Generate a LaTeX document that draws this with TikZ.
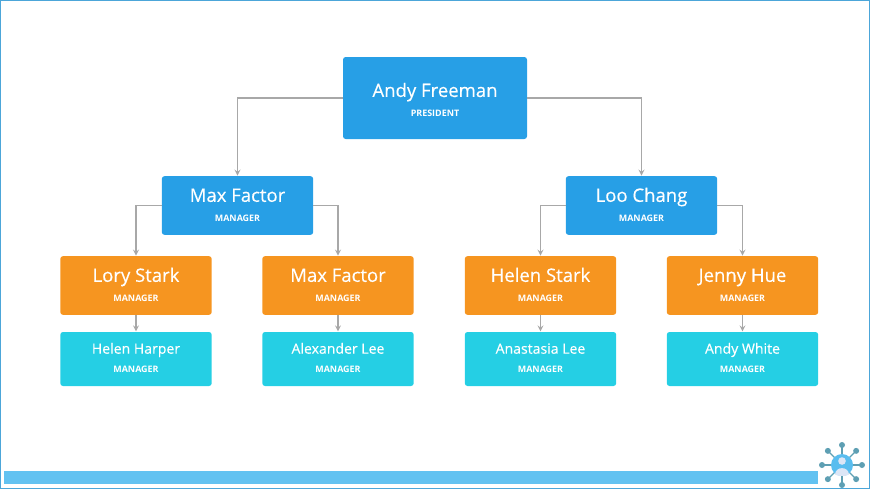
\documentclass[tikz,border=0pt]{standalone}
\usepackage{fontspec}
\setmainfont{Open Sans}
\newfontfamily\namefont{Open Sans}[FakeBold=0.35]
\usepackage{tikz}
\usetikzlibrary{arrows}
\tikzset{>=stealth}
\definecolor{topblue}{HTML}{279FE6}
\definecolor{midorange}{HTML}{F69520}
\definecolor{lowcyan}{HTML}{25CFE4}
\definecolor{barblue}{HTML}{62C2F1}
\definecolor{frameblue}{HTML}{4CA6D9}
\definecolor{linkgray}{HTML}{A8A8A8}
\definecolor{logoteal}{HTML}{5E9FB3}
\definecolor{logoface}{HTML}{DCE6F6}
\newcommand{\bigname}[1]{{\namefont\fontsize{13.9pt}{16pt}\selectfont #1}}
\newcommand{\midname}[1]{{\rule{0pt}{11pt}\namefont\fontsize{13.9pt}{15pt}\selectfont #1}}
\newcommand{\lowname}[1]{{\rule{0pt}{8.5pt}\namefont\fontsize{10.55pt}{13pt}\selectfont #1}}
\newcommand{\rolename}[1]{{\fontsize{6.7pt}{8pt}\selectfont\bfseries #1}}
\newcommand{\lift}[1]{\rule[-#1]{0pt}{#1}}
\tikzset{
  box/.style={rounded corners=2pt, text=white, align=center, inner sep=0pt, minimum width=113.5pt},
  president/.style={box, fill=topblue, minimum width=138pt, minimum height=61.5pt},
  chief/.style={box, fill=topblue, minimum height=44pt},
  lead/.style={box, fill=midorange, minimum height=44pt},
  staff/.style={box, fill=lowcyan, minimum height=40.5pt},
  link/.style={draw=linkgray, line width=1pt, ->, >={stealth}, shorten >=0.2pt}
}
\begin{document}
\begin{tikzpicture}[x=0.75pt,y=-0.75pt]

    \useasboundingbox (0,0) rectangle (870,489);

    \draw [frameblue, line width=1pt] (0.8,0.8) rectangle (869.2,488.2);
    \fill [barblue] (4,471) rectangle (818,484);

    % boxes
    \node [president] (andy) at (435,98) {\rule{0pt}{13.5pt}\bigname{Andy Freeman}\\[3pt]\rolename{PRESIDENT}};

    \node [chief] (maxtop) at (237.5,205.5) {\midname{Max Factor}\\[2.5pt]\rolename{MANAGER}\lift{2pt}};
    \node [chief] (loo) at (641.5,205.5) {\midname{Loo Chang}\\[2.5pt]\rolename{MANAGER}\lift{2pt}};

    \node [lead] (lory) at (136,285.5) {\midname{Lory Stark}\\[2.5pt]\rolename{MANAGER}\lift{2pt}};
    \node [lead] (maxlow) at (338,285.5) {\midname{Max Factor}\\[2.5pt]\rolename{MANAGER}\lift{2pt}};
    \node [lead] (helen) at (540.5,285.5) {\midname{Helen Stark}\\[2.5pt]\rolename{MANAGER}\lift{2pt}};
    \node [lead] (jenny) at (742.5,285.5) {\midname{Jenny Hue}\\[2.5pt]\rolename{MANAGER}\lift{2pt}};

    \node [staff] (harper) at (136,359) {\lowname{Helen Harper}\\[2.25pt]\rolename{MANAGER}\lift{2.25pt}};
    \node [staff] (alex) at (338,359) {\lowname{Alexander Lee}\\[2.25pt]\rolename{MANAGER}\lift{2.25pt}};
    \node [staff] (anastasia) at (540.5,359) {\lowname{Anastasia Lee}\\[2.25pt]\rolename{MANAGER}\lift{2.25pt}};
    \node [staff] (white) at (742.5,359) {\lowname{Andy White}\\[2.25pt]\rolename{MANAGER}\lift{2.25pt}};

    % links
    \draw [link] (andy.west) -| (maxtop.north);
    \draw [link] (andy.east) -| (loo.north);

    \draw [link] (maxtop.west) -| (lory.north);
    \draw [link] (maxtop.east) -| (maxlow.north);
    \draw [link] (loo.west) -| (helen.north);
    \draw [link] (loo.east) -| (jenny.north);

    \draw [link] (lory) -- (harper);
    \draw [link] (maxlow) -- (alex);
    \draw [link] (helen) -- (anastasia);
    \draw [link] (jenny) -- (white);

    % logo
    \foreach \a in {0,45,...,315} {
        \draw [logoteal, line width=1pt] (842,465) -- ++(\a:20);
        \fill [logoteal] (842,465) ++(\a:20) circle (3);
    }
    \fill [barblue!85!topblue] (842,465) circle (11);
    \fill [logoface] (842,461) circle (3.8);
    \fill [logoface] (835,474.5) .. controls (835.5,466) and (848.5,466) .. (849,474.5) .. controls (846,476.5) and (838,476.5) .. (835,474.5);

\end{tikzpicture}
\end{document}
